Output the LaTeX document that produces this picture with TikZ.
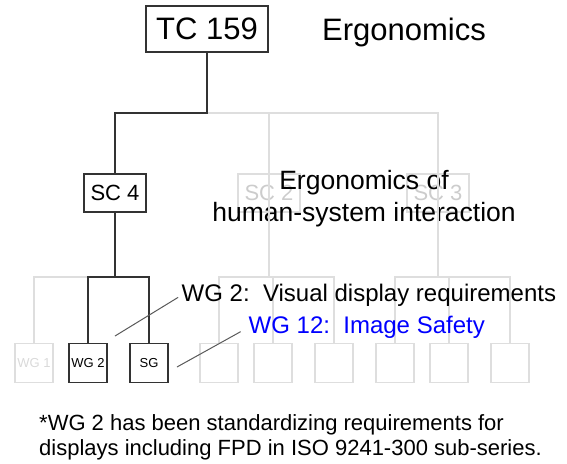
\documentclass[tikz,border=0pt]{standalone}
\usepackage{fontspec}
\setmainfont{Liberation Sans}
\usetikzlibrary{positioning}
\definecolor{faint}{gray}{0.87}
\tikzset{
  org/.style={
    draw=black!80, line width=1.3pt, inner sep=0pt,
    font=\fontsize{22}{26}\selectfont
  },
  tcbox/.style={org, minimum width=122pt, minimum height=46pt, font=\fontsize{31}{37}\selectfont},
  scbox/.style={org, minimum width=62pt, minimum height=38pt},
  scfaint/.style={scbox, draw=faint, line width=1.2pt, text=black!20},
  wgbox/.style={org, minimum width=38pt, minimum height=39pt, font=\fontsize{13}{15}\selectfont},
  wgfaint/.style={wgbox, draw=faint, line width=1.2pt, text=black!15},
  branch/.style={draw=black!80, line width=1.3pt},
  branchfaint/.style={draw=faint, line width=1.2pt},
  lbl/.style={inner sep=0pt, anchor=base},
  leader/.style={draw=black!65, line width=1pt},
}

\begin{document}
\begin{tikzpicture}[x=1pt, y=-1pt]
  \useasboundingbox (0,0) rectangle (567,463);
  \node[tcbox] (tc159) at (207,29) {TC 159};
  \node[lbl, font=\fontsize{31}{37}\selectfont] (tcname) at (404,40) {Ergonomics};

  \node[scbox] (sc4) at (115,193) {SC 4};
  \node[scfaint] (sc2) at (269,193) {SC 2};
  \node[scfaint] (sc3) at (438,193) {SC 3};
  \node[lbl, font=\fontsize{26.5}{32}\selectfont] (scname1) at (364,189) {Ergonomics of};
  \node[lbl, font=\fontsize{26.5}{32}\selectfont] (scname2) at (364,221.5) {human-system interaction};

  \node[wgfaint] (wg1) at (34,363) {WG 1};
  \node[wgbox] (wg2) at (88,363) {WG 2};
  \node[wgbox] (sg) at (149,363) {SG};
  \foreach \i/\x in {a/219, b/273, c/334, d/395, e/449, f/510}
    \node[wgfaint] (w\i) at (\x,363) {};

  \coordinate (bus1) at (0,113);
  \coordinate (bus4) at (0,277);

  \draw[branchfaint] (tc159.south |- bus1) -| (sc3 |- bus4);
  \draw[branchfaint] (sc2 |- bus1) -- (sc2 |- bus4);
  \draw[branchfaint] (wa.north) |- (wc |- bus4) -- (wc.north);
  \draw[branchfaint] (wb.north) -- (wb |- bus4);
  \draw[branchfaint] (wd.north) |- (wf |- bus4) -- (wf.north);
  \draw[branchfaint] (we.north) -- (we |- bus4);
  \draw[branchfaint] (wg1.north) |- (wg2 |- bus4);

  \draw[branch] (tc159.south) |- (sc4 |- bus1) -- (sc4.north);
  \draw[branch] (sc4.south) -- (sc4 |- bus4);
  \draw[branch] (wg2.north) |- (sg |- bus4) -- (sg.north);

  \node[lbl, anchor=base west, font=\fontsize{24}{29}\selectfont] (wg2lbl) at (181.5,301.5) {WG 2:\ \ Visual display requirements};
  \node[lbl, anchor=base west, text=blue, font=\fontsize{24}{29}\selectfont] (wg12lbl) at (248.5,333.5) {WG 12:\ \ Image Safety};
  \coordinate (wg2tip) at (115,336);
  \coordinate (sgtip) at (177,367);
  \draw[leader, shorten >=4pt] (wg2tip) -- (wg2lbl.west);
  \draw[leader, shorten >=9pt] (sgtip) -- (wg12lbl.west);

  \node[lbl, anchor=base west, font=\fontsize{22}{25}\selectfont] (note1) at (39,430) {*WG 2 has been standardizing requirements for};
  \node[lbl, anchor=base west, font=\fontsize{22}{25}\selectfont] (note2) at (39,455) {displays including FPD in ISO 9241-300 sub-series.};
\end{tikzpicture}
\end{document}
